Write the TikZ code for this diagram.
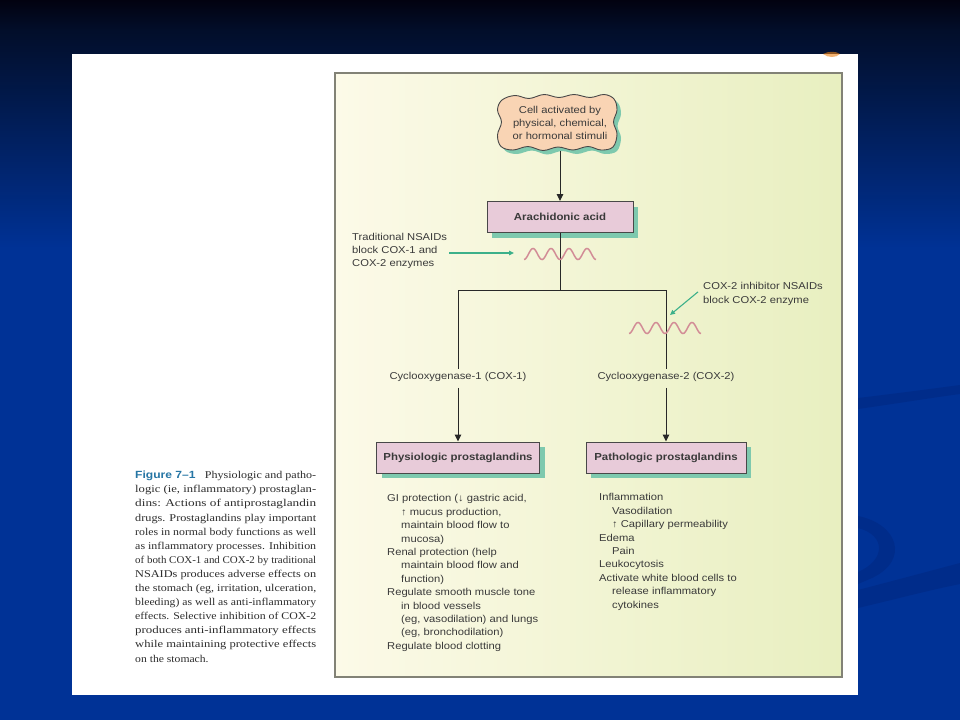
\documentclass[tikz,border=0pt]{standalone}
\usepackage{fontspec}
\usepackage{graphicx}
\setmainfont{Liberation Sans}
\newfontfamily\diag[FakeStretch=1.12]{Liberation Sans}
\newfontfamily\capserif{Liberation Serif}
\newfontfamily\capsans{Liberation Sans}
\usetikzlibrary{arrows.meta,shadows}
\definecolor{bg}{RGB}{0,50,150}
\definecolor{bgtop}{RGB}{2,2,16}
\definecolor{bgmid}{RGB}{2,14,42}
\definecolor{swoosh}{RGB}{0,44,138}
\definecolor{panL}{RGB}{252,250,232}
\definecolor{panR}{RGB}{232,239,192}
\definecolor{panline}{RGB}{130,130,118}
\definecolor{boxfill}{RGB}{232,203,217}
\definecolor{boxline}{RGB}{72,72,72}
\definecolor{shadowc}{RGB}{126,201,174}
\definecolor{cloudfill}{RGB}{249,212,180}
\definecolor{txt}{RGB}{58,58,58}
\definecolor{captxt}{RGB}{45,45,45}
\definecolor{squig}{RGB}{210,140,150}
\definecolor{garr}{RGB}{60,176,138}
\definecolor{capblue}{RGB}{38,118,165}
\definecolor{linec}{RGB}{40,40,40}
\newcommand{\cloudshape}[1]{\path[#1] plot[smooth cycle, tension=0.6] coordinates {
 (502,100) (515,95.5) (529,98.5) (544,94.5) (559,97.5) (574,94.5) (590,97.5) (604,94.5) (614,99)
 (617,110) (613.5,122) (617,134) (613,147)
 (601,150) (588,146.5) (573,150) (558,147) (543,150.5) (528,146.5) (513,150) (501,146.5)
 (497.5,135) (501.5,122) (497.5,110)};}
\newcommand{\capfit}[1]{\resizebox{181pt}{\height}{#1}}
\begin{document}
\begin{tikzpicture}[x=1pt,y=-1pt,
  box/.style={draw=boxline, fill=boxfill, line width=1pt, minimum height=31pt, inner sep=2pt,
    font=\diag\bfseries\fontsize{10.2}{12}\selectfont, text=txt,
    drop shadow={shadow xshift=5pt, shadow yshift=-5pt, fill=shadowc, opacity=1}},
  lbl/.style={font=\diag\fontsize{10}{13.4}\selectfont, text=txt, inner sep=0pt, align=left},
  clbl/.style={font=\diag\fontsize{10}{13}\selectfont, text=txt, inner sep=3pt, align=center},
  conn/.style={draw=linec, line width=1pt},
  arr/.style={conn, -{Triangle[width=6.5pt,length=7pt]}},
  garrow/.style={draw=garr, line width=1.1pt, -{Triangle[width=4.5pt,length=5pt]}},
  wave/.style={draw=squig, line width=1.5pt}
]
\useasboundingbox (0,0) rectangle (960,720);
% background
\fill[bg] (0,0) rectangle (960,720);
\shade[top color=bgtop, bottom color=bgmid] (0,0) rectangle (960,30);
\shade[top color=bgmid, bottom color=bg] (0,30) rectangle (960,250);
\fill[swoosh] (858,398) .. controls (900,393) and (930,389) .. (960,385) -- (960,394) .. controls (930,398) and (900,403) .. (858,409) -- cycle;
\fill[swoosh] (858,516) .. controls (898,524) and (910,560) .. (872,578) -- (858,584) -- (858,572) .. controls (886,560) and (886,535) .. (858,528) -- cycle;
\fill[swoosh] (858,590) .. controls (900,579) and (930,571) .. (960,563) -- (960,584) .. controls (930,590) and (900,598) .. (858,608) -- cycle;
% white page
\fill[white] (72,54) rectangle (858,695);
\fill[orange!70!brown, opacity=0.6] (823,54) .. controls (828,51) and (836,51) .. (840,54) .. controls (836,58) and (828,58) .. (823,54) -- cycle;
% inner panel
\shade[left color=panL, right color=panR] (335,73) rectangle (842,677);
\draw[panline, line width=1.3pt] (335,73) rectangle (842,677);

% cloud
\cloudshape{fill=shadowc, shift={(4,4)}}
\cloudshape{fill=cloudfill, draw=boxline, line width=0.9pt}
\node[clbl, minimum width=118pt, minimum height=55pt] (cloud) at (560,123)
  {Cell activated by\\physical, chemical,\\or hormonal stimuli};

% boxes
\node[box, minimum width=146pt] (arach) at (560,217) {Arachidonic acid};
\node[box, minimum width=163pt] (phys) at (458,457.5) {Physiologic prostaglandins};
\node[box, minimum width=160pt] (path) at (666,457.5) {Pathologic prostaglandins};

% cox labels
\node[clbl] (cox1) at (458,377) {Cyclooxygenase-1 (COX-1)};
\node[clbl] (cox2) at (666,377) {Cyclooxygenase-2 (COX-2)};

% tree
\coordinate (j) at (560,290);
\coordinate (jl) at (458,290);
\coordinate (jr) at (666,290);
\draw[conn] (arach.south) -- (j);
\draw[conn] (jl) -- (jr);
\draw[conn] (jl) -- (cox1.north);
\draw[conn] (jr) -- (cox2.north);
\draw[arr] (cloud.south) -- (arach.north);
\draw[arr, shorten <=3pt] (cox1.south) -- (phys.north);
\draw[arr, shorten <=3pt] (cox2.south) -- (path.north);

% squiggles
\draw[wave] plot[domain=0:72, samples=120] ({524+\x},{254+5.5*cos(20*\x)});
\draw[wave] plot[domain=0:72, samples=120] ({629+\x},{328+5.5*cos(20*\x)});

% NSAID labels
\node[lbl, anchor=north west, font=\diag\fontsize{10}{13}\selectfont] (trad) at (352,233)
  {Traditional NSAIDs\\block COX-1 and\\COX-2 enzymes};
\node[lbl, anchor=north west, font=\diag\fontsize{10}{14}\selectfont] (cx2inh) at (703,282)
  {COX-2 inhibitor NSAIDs\\block COX-2 enzyme};
\coordinate (g1) at (514,253);
\coordinate (g2) at (670,315);
\draw[garrow, shorten <=2pt] (trad.east |- g1) -- (g1);
\draw[garrow] ([xshift=-5pt,yshift=2pt]cx2inh.west) -- (g2);

% lists
\node[lbl, anchor=north west] (physlist) at (387,494.5)
  {GI protection (↓ gastric acid,\\
   \hspace*{14pt}↑ mucus production,\\
   \hspace*{14pt}maintain blood flow to\\
   \hspace*{14pt}mucosa)\\
   Renal protection (help\\
   \hspace*{14pt}maintain blood flow and\\
   \hspace*{14pt}function)\\
   Regulate smooth muscle tone\\
   \hspace*{14pt}in blood vessels\\
   \hspace*{14pt}(eg, vasodilation) and lungs\\
   \hspace*{14pt}(eg, bronchodilation)\\
   Regulate blood clotting};
\node[lbl, anchor=north west] (pathlist) at (599,493.5)
  {Inflammation\\
   \hspace*{13pt}Vasodilation\\
   \hspace*{13pt}↑ Capillary permeability\\
   Edema\\
   \hspace*{13pt}Pain\\
   Leukocytosis\\
   Activate white blood cells to\\
   \hspace*{13pt}release inflammatory\\
   \hspace*{13pt}cytokines};

% caption
\node[anchor=north west, inner sep=0pt, align=left, text=captxt,
  font=\capserif\fontsize{10.4}{14.1}\selectfont] (caption) at (135,471)
  {\capfit{{\capsans\bfseries\color{capblue}Figure 7–1}\hspace{8pt}Physiologic and patho-}\\
   \capfit{logic (ie, inflammatory) prostaglan-}\\
   \capfit{dins: Actions of antiprostaglandin}\\
   \capfit{drugs. Prostaglandins play important}\\
   \capfit{roles in normal body functions as well}\\
   \capfit{as inflammatory processes. Inhibition}\\
   \capfit{of both COX-1 and COX-2 by traditional}\\
   \capfit{NSAIDs produces adverse effects on}\\
   \capfit{the stomach (eg, irritation, ulceration,}\\
   \capfit{bleeding) as well as anti-inflammatory}\\
   \capfit{effects. Selective inhibition of COX-2}\\
   \capfit{produces anti-inflammatory effects}\\
   \capfit{while maintaining protective effects}\\
   \scalebox{1.12}[1]{on the stomach.}};
\end{tikzpicture}
\end{document}
